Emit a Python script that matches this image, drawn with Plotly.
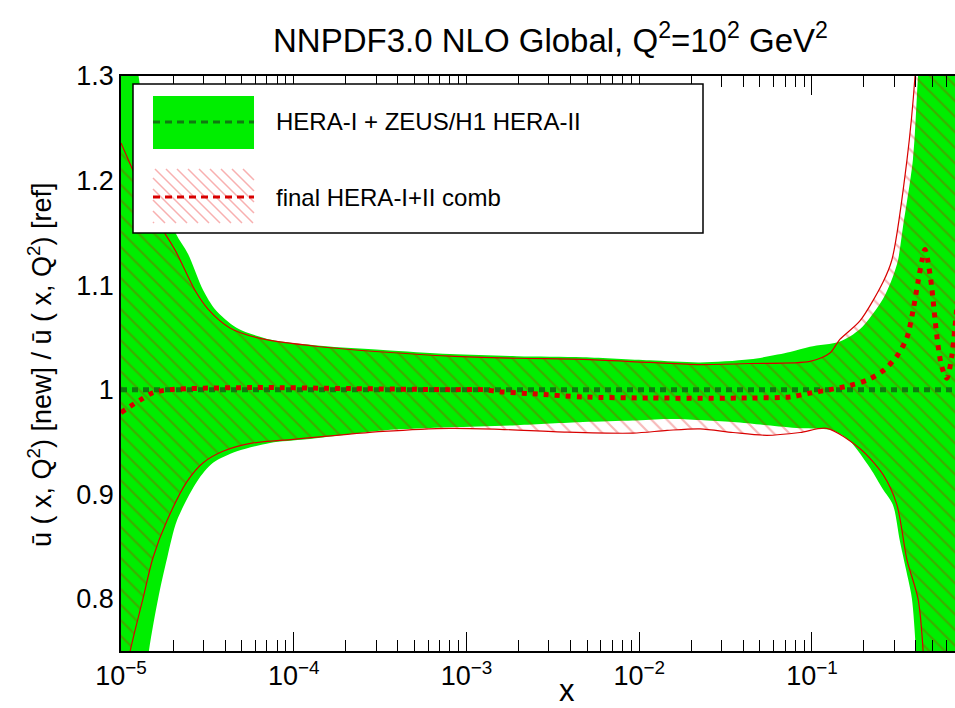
import plotly.graph_objects as go

# ---------------- data ----------------
# Green band: HERA-I + ZEUS/H1 HERA-II (reference fit), 1-sigma envelope
green_up_x = [1.00e-5, 1.29e-5, 1.68e-5, 2.08e-5, 2.44e-5, 2.99e-5, 3.50e-5, 4.69e-5, 7.29e-5,
              1.42e-4, 3.29e-4, 8.02e-4, 1.96e-3, 4.72e-3, 1.15e-2, 2.25e-2, 4.38e-2, 7.46e-2,
              9.73e-2, 0.145, 0.190, 0.258, 0.294, 0.315, 0.336, 0.384, 0.411, 0.482, 0.70]
green_up_y = [1.45, 1.29, 1.195, 1.149, 1.130, 1.095, 1.077, 1.059, 1.048,
              1.042, 1.038, 1.034, 1.032, 1.031, 1.028, 1.026, 1.029, 1.036,
              1.041, 1.046, 1.058, 1.087, 1.108, 1.124, 1.155, 1.22, 1.30, 1.50, 1.60]
green_lo_x = [1.00e-5, 1.45e-5, 1.64e-5, 1.85e-5, 2.11e-5, 2.75e-5, 3.41e-5, 4.69e-5, 7.29e-5,
              1.19e-4, 3.29e-4, 8.02e-4, 1.96e-3, 4.72e-3, 9.20e-3, 1.45e-2, 2.25e-2, 3.49e-2,
              5.48e-2, 8.53e-2, 0.132, 0.166, 0.217, 0.258, 0.294, 0.323, 0.360, 0.379, 0.400,
              0.451, 0.70]
green_lo_y = [0.55, 0.75, 0.80, 0.839, 0.875, 0.912, 0.930, 0.941, 0.949,
              0.9525, 0.961, 0.964, 0.966, 0.969, 0.9705, 0.972, 0.971, 0.969,
              0.966, 0.963, 0.961, 0.9506, 0.925, 0.9045, 0.890, 0.855, 0.819, 0.80, 0.75,
              0.55, 0.40]

# Red hatched band: final HERA-I+II comb
red_up_x = [1.00e-5, 1.17e-5, 1.47e-5, 1.80e-5, 2.08e-5, 2.68e-5, 3.19e-5, 4.27e-5, 6.38e-5,
            1.42e-4, 3.29e-4, 8.02e-4, 1.96e-3, 4.72e-3, 1.15e-2, 2.25e-2, 4.38e-2, 9.73e-2,
            0.127, 0.145, 0.190, 0.258, 0.290, 0.355, 0.395, 0.451, 0.70]
red_up_y = [1.236, 1.21, 1.17, 1.149, 1.132, 1.095, 1.077, 1.059, 1.049,
            1.041, 1.036, 1.032, 1.030, 1.029, 1.026, 1.024, 1.025, 1.027,
            1.035, 1.048, 1.066, 1.103, 1.124, 1.22, 1.30, 1.50, 1.60]
red_lo_x = [1.00e-5, 1.13e-5, 1.34e-5, 1.53e-5, 1.85e-5, 2.41e-5, 2.99e-5, 3.89e-5, 5.81e-5,
            9.91e-5, 3.29e-4, 8.02e-4, 1.56e-3, 3.82e-3, 9.20e-3, 1.45e-2, 2.25e-2, 3.49e-2,
            5.48e-2, 8.53e-2, 0.122, 0.190, 0.258, 0.310, 0.355, 0.411, 0.440, 0.482, 0.70]
red_lo_y = [0.70, 0.75, 0.80, 0.839, 0.875, 0.912, 0.930, 0.941, 0.949,
            0.9525, 0.960, 0.963, 0.962, 0.9593, 0.9584, 0.961, 0.9625, 0.959,
            0.9563, 0.959, 0.963, 0.9435, 0.9187, 0.89, 0.837, 0.80, 0.75, 0.55, 0.40]

# Central values
ref_x = [1.0e-5, 0.70]
ref_y = [1.0, 1.0]
new_x = [1.00e-5, 1.13e-5, 1.29e-5, 1.53e-5, 1.92e-5, 5.81e-5, 2.12e-4, 8.02e-4, 1.25e-3,
         1.56e-3, 2.43e-3, 4.72e-3, 1.15e-2, 4.38e-2, 7.46e-2, 9.73e-2, 0.127, 0.166,
         0.208, 0.258, 0.310, 0.355, 0.384, 0.411, 0.434, 0.451, 0.469, 0.495, 0.515,
         0.536, 0.565, 0.604, 0.645, 0.673, 0.70]
new_y = [0.978, 0.984, 0.990, 0.997, 1.000, 1.002, 1.001, 1.000, 1.000,
         0.998, 0.996, 0.993, 0.992, 0.992, 0.993, 0.9967, 1.000, 1.004,
         1.009, 1.018, 1.032, 1.05, 1.075, 1.103, 1.124, 1.134, 1.123, 1.096, 1.068,
         1.043, 1.0215, 1.011, 1.032, 1.06, 1.09]

x_tick_vals = [1e-5, 1e-4, 1e-3, 1e-2, 1e-1]
x_tick_text = ["10<sup>\u22125</sup>", "10<sup>\u22124</sup>", "10<sup>\u22123</sup>",
               "10<sup>\u22122</sup>", "10<sup>\u22121</sup>"]
y_tick_vals = [0.8, 0.9, 1.0, 1.1, 1.2, 1.3]
y_tick_text = ["0.8", "0.9", "1", "1.1", "1.2", "1.3"]

legend_labels = ["HERA-I + ZEUS/H1 HERA-II", "final HERA-I+II comb"]
title_text = "NNPDF3.0 NLO Global, Q<sup>2</sup>=10<sup>2</sup> GeV<sup>2</sup>"
y_title = "\u016b ( x, Q<sup>2</sup>) [new] / \u016b ( x, Q<sup>2</sup>) [ref]"

# ---------------- styling ----------------
FONT = "Liberation Sans, Arial, Helvetica, sans-serif"
GREEN = "#00ee00"
DKGREEN = "#107a10"
RED = "#d80000"
HATCH = "rgba(225,0,0,0.55)"

W, H = 955, 708
L, R, T, B = 121, 0, 76, 57
PW, PH = W - L - R, H - T - B


def px(xp):
    return (xp - L) / PW


def py(yp):
    return (H - B - yp) / PH


fig = go.Figure()

# green band
fig.add_trace(go.Scatter(
    x=green_up_x + green_lo_x[::-1], y=green_up_y + green_lo_y[::-1],
    fill="toself", fillcolor=GREEN, mode="lines",
    line=dict(width=0, color=GREEN, shape="spline", smoothing=0.8),
    hoverinfo="skip"))

# red hatched band
fig.add_trace(go.Scatter(
    x=red_up_x + red_lo_x[::-1], y=red_up_y + red_lo_y[::-1],
    fill="toself", fillcolor="rgba(0,0,0,0)", mode="lines",
    line=dict(width=0, shape="spline", smoothing=0.8),
    fillpattern=dict(shape="\\", fgcolor=HATCH, bgcolor="rgba(0,0,0,0)", size=11, solidity=0.2),
    hoverinfo="skip"))
fig.add_trace(go.Scatter(x=red_up_x, y=red_up_y, mode="lines",
                         line=dict(color=RED, width=1.2, shape="spline", smoothing=0.8)))
fig.add_trace(go.Scatter(x=red_lo_x, y=red_lo_y, mode="lines",
                         line=dict(color=RED, width=1.2, shape="spline", smoothing=0.8)))

# central lines
fig.add_trace(go.Scatter(x=ref_x, y=ref_y, mode="lines",
                         line=dict(color=DKGREEN, width=5, dash="6px,5px")))
fig.add_trace(go.Scatter(x=new_x, y=new_y, mode="lines",
                         line=dict(color=RED, width=5, dash="5px,6px", shape="spline", smoothing=0.8)))

minor_vals = []
for d in range(-5, 0):
    for k in range(2, 10):
        v = k * 10.0 ** d
        if v < 0.68:
            minor_vals.append(v)

fig.update_layout(
    width=W, height=H, margin=dict(l=L, r=R, t=T, b=B),
    plot_bgcolor="white", paper_bgcolor="white", showlegend=False,
    font=dict(family=FONT, color="black"),
    xaxis=dict(type="log", range=[-5, -0.172], tickvals=x_tick_vals, ticktext=x_tick_text,
               ticks="inside", ticklen=19, tickwidth=1.3, tickcolor="black",
               showline=True, linecolor="black", linewidth=1.5, mirror="allticks",
               showgrid=False, zeroline=False, tickfont=dict(size=27, family=FONT),
               minor=dict(tickvals=minor_vals, ticks="inside", ticklen=11, tickwidth=1.3,
                          tickcolor="black", showgrid=False)),
    yaxis=dict(range=[0.75, 1.3], tickvals=y_tick_vals, ticktext=y_tick_text, ticks="",
               showline=True, linecolor="black", linewidth=1.5, mirror=False,
               showgrid=False, zeroline=False, tickfont=dict(size=27, family=FONT)),
)

# ---------------- legend (drawn by hand, above the axes) ----------------
shapes = []
shapes.append(dict(type="rect", xref="paper", yref="paper", layer="above",
                   x0=px(133), x1=px(703), y0=py(233), y1=py(84),
                   fillcolor="white", line=dict(color="black", width=1.5)))
shapes.append(dict(type="rect", xref="paper", yref="paper", layer="above",
                   x0=px(153), x1=px(254), y0=py(149), y1=py(96),
                   fillcolor=GREEN, line=dict(width=0)))
shapes.append(dict(type="line", xref="paper", yref="paper", layer="above",
                   x0=px(153), x1=px(254), y0=py(122), y1=py(122),
                   line=dict(color=DKGREEN, width=3, dash="7px,5px")))
# hatch lines in legend patch
hx0, hx1, hy0, hy1 = 153, 254, 169, 223
path = ""
c = hy0 - hx1
while c < hy1 - hx0:
    xa = max(hx0, hy0 - c)
    xb = min(hx1, hy1 - c)
    if xb > xa:
        path += "M{:.5f},{:.5f} L{:.5f},{:.5f} ".format(px(xa), py(xa + c), px(xb), py(xb + c))
    c += 11
shapes.append(dict(type="path", xref="paper", yref="paper", layer="above", path=path,
                   line=dict(color="rgba(240,80,80,0.45)", width=1.5)))
shapes.append(dict(type="line", xref="paper", yref="paper", layer="above",
                   x0=px(153), x1=px(254), y0=py(197), y1=py(197),
                   line=dict(color=RED, width=3, dash="7px,5px")))
fig.update_layout(shapes=shapes)

ann = [
    dict(text=legend_labels[0], x=px(274), y=py(122), xref="paper", yref="paper",
         xanchor="left", yanchor="middle", showarrow=False, font=dict(size=24, family=FONT)),
    dict(text=legend_labels[1], x=px(274), y=py(197), xref="paper", yref="paper",
         xanchor="left", yanchor="middle", showarrow=False, font=dict(size=24, family=FONT)),
    dict(text=title_text, x=px(550), y=py(38), xref="paper", yref="paper",
         xanchor="center", yanchor="middle", showarrow=False, font=dict(size=33, family=FONT)),
    dict(text="x", x=px(567), y=py(690), xref="paper", yref="paper",
         xanchor="center", yanchor="middle", showarrow=False, font=dict(size=31, family=FONT)),
    dict(text=y_title, x=px(40), y=py(365), xref="paper", yref="paper", textangle=-90,
         xanchor="center", yanchor="middle", showarrow=False, font=dict(size=27, family=FONT)),
]
fig.update_layout(annotations=ann)

fig.write_html("out.html")
